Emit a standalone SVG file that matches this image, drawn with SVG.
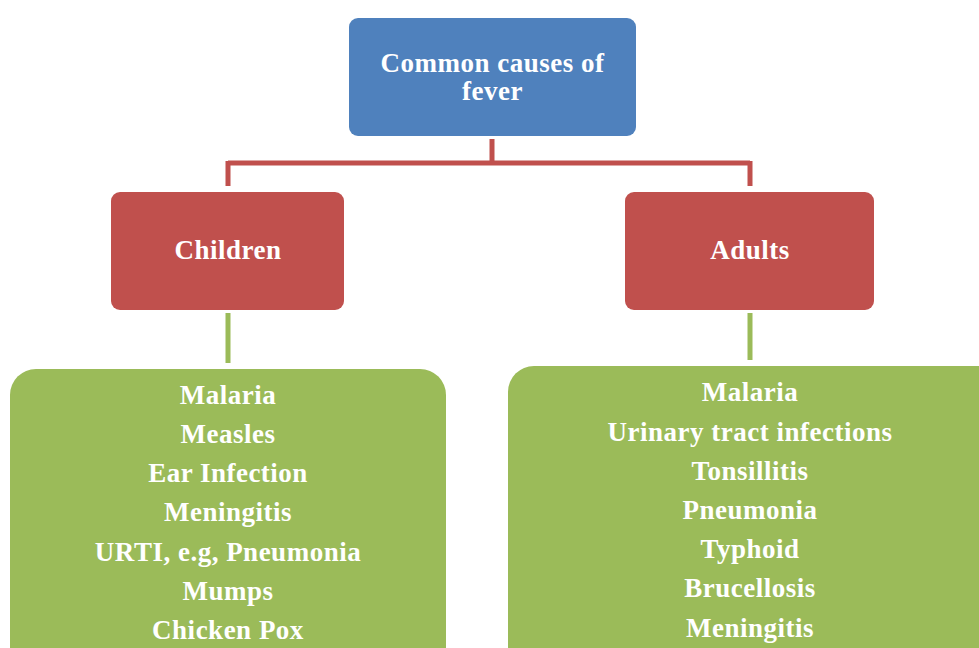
<svg xmlns="http://www.w3.org/2000/svg" width="979" height="648" viewBox="0 0 979 648">
<style>
.t{font-family:"Liberation Serif","Times New Roman",serif;font-weight:bold;font-size:27px;fill:#ffffff;text-anchor:middle;letter-spacing:0.5px}
.blue{fill:#4F81BD}
.red{fill:#C0504D}
.green{fill:#9BBB59}
</style>
<rect width="979" height="648" fill="#ffffff"/>
<g id="connectors" fill="none">
  <path d="M492 139 V163 M228 163 H750 M228 161 V186 M750 161 V186" stroke="#C0504D" stroke-width="5"/>
  <path d="M228 313 V363 M750 313 V360" stroke="#9BBB59" stroke-width="5"/>
</g>
<g id="root">
  <rect class="blue" x="349" y="18" width="287" height="118" rx="9"/>
  <text class="t" x="492.5" y="72">Common causes of</text>
  <text class="t" x="492.5" y="100">fever</text>
</g>
<g id="children">
  <rect class="red" x="111" y="192" width="233" height="118" rx="9"/>
  <text class="t" x="228" y="259">Children</text>
</g>
<g id="adults">
  <rect class="red" x="625" y="192" width="249" height="118" rx="9"/>
  <text class="t" x="750" y="259">Adults</text>
</g>
<g id="children-list">
  <rect class="green" x="10" y="369" width="436" height="310" rx="26"/>
  <text class="t" x="228" y="404">Malaria</text>
  <text class="t" x="228" y="443">Measles</text>
  <text class="t" x="228" y="482">Ear Infection</text>
  <text class="t" x="228" y="521">Meningitis</text>
  <text class="t" x="228" y="561">URTI, e.g, Pneumonia</text>
  <text class="t" x="228" y="600">Mumps</text>
  <text class="t" x="228" y="639">Chicken Pox</text>
</g>
<g id="adults-list">
  <rect class="green" x="508" y="366" width="500" height="310" rx="26"/>
  <text class="t" x="750" y="401">Malaria</text>
  <text class="t" x="750" y="441">Urinary tract infections</text>
  <text class="t" x="750" y="480">Tonsillitis</text>
  <text class="t" x="750" y="519">Pneumonia</text>
  <text class="t" x="750" y="558">Typhoid</text>
  <text class="t" x="750" y="597">Brucellosis</text>
  <text class="t" x="750" y="637">Meningitis</text>
</g>
</svg>
